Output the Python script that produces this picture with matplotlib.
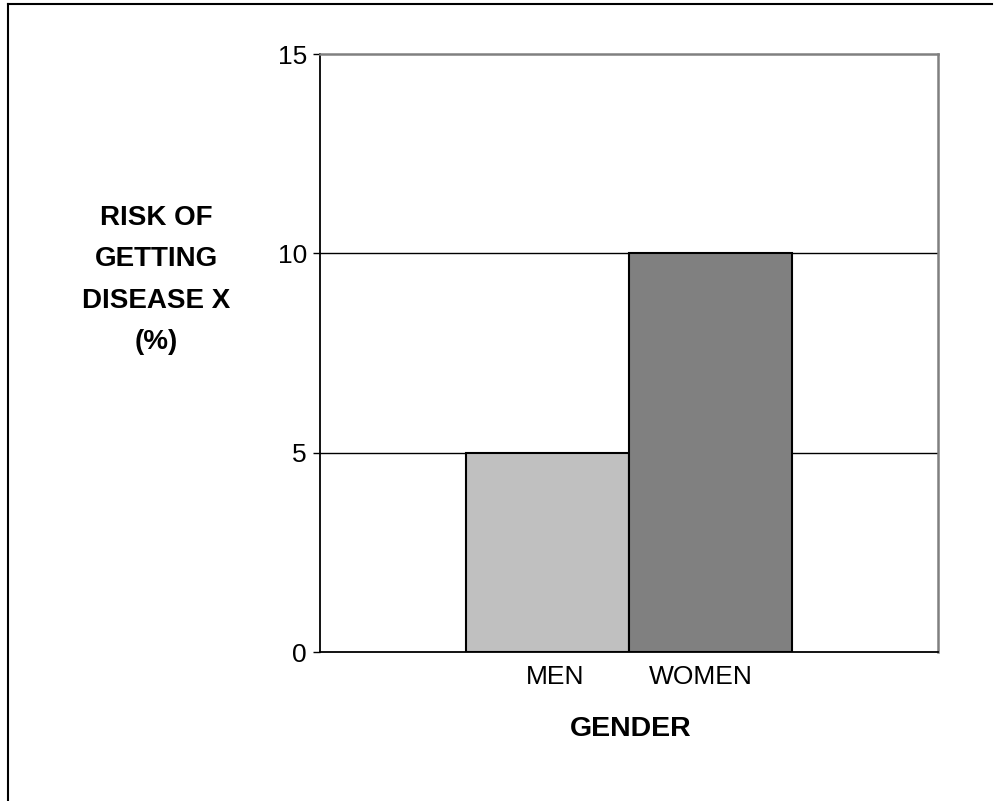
import matplotlib
matplotlib.use("Agg")
import matplotlib.pyplot as plt
from matplotlib.lines import Line2D
from matplotlib.transforms import ScaledTranslation

plt.rcParams['font.family'] = ['Liberation Sans', 'DejaVu Sans']

# Data
categories = ["MEN", "WOMEN"]
risk_pct = [5, 10]
bar_colors = ["#C0C0C0", "#808080"]
y_ticks = [0, 5, 10, 15]

W, H, DPI = 995, 801, 100
fig = plt.figure(figsize=(W / DPI, H / DPI), dpi=DPI)
fig.patch.set_facecolor("white")

# Outer frame (top and left edges)
fig.add_artist(Line2D([8 / W, 992 / W], [1 - 4 / H, 1 - 4 / H],
                      transform=fig.transFigure, color="black", lw=1.5))
fig.add_artist(Line2D([8 / W, 8 / W], [1 - 4 / H, 0],
                      transform=fig.transFigure, color="black", lw=1.5))

ax = fig.add_axes([320 / W, 1 - 652 / H, 618 / W, 598 / H])

x = list(range(len(categories)))
ax.bar(x, risk_pct, width=1.0, color=bar_colors, edgecolor="black",
       linewidth=1.5, zorder=3)

ax.set_xlim(-1.39, 2.39)
ax.set_ylim(0, 15)
ax.set_yticks(y_ticks)
ax.set_xticks(x)
ax.set_xticklabels(categories)

# Horizontal gridlines at 5 and 10
for v in y_ticks[1:-1]:
    ax.axhline(v, color="black", lw=1.0, zorder=1)

for side in ["left", "bottom"]:
    ax.spines[side].set_color("black")
    ax.spines[side].set_linewidth(1.3)
for side in ["top", "right"]:
    ax.spines[side].set_color("#808080")
    ax.spines[side].set_linewidth(1.8)
ax.spines["bottom"].set_zorder(4)

ax.tick_params(axis="y", direction="out", length=5, width=1, pad=4.5,
               labelsize=19, colors="black")
ax.tick_params(axis="x", length=0, pad=9, labelsize=19)

# Category labels sit slightly toward the centre of the pair
label_shift_px = [8, -10]
for lbl, dx in zip(ax.get_xticklabels(), label_shift_px):
    lbl.set_transform(lbl.get_transform() +
                      ScaledTranslation(dx / DPI, 0, fig.dpi_scale_trans))

ax.set_ylabel("RISK OF\nGETTING\nDISEASE X\n(%)", rotation=0, fontsize=20,
              fontweight="bold", ha="center", va="center",
              multialignment="center", linespacing=1.76)
ax.yaxis.set_label_coords(-0.265, 0.622)

ax.set_xlabel("GENDER", fontsize=20.5, fontweight="bold", va="center")
ax.xaxis.set_label_coords(0.502, -0.129)

fig.savefig("out.png", dpi=DPI, facecolor="white")
